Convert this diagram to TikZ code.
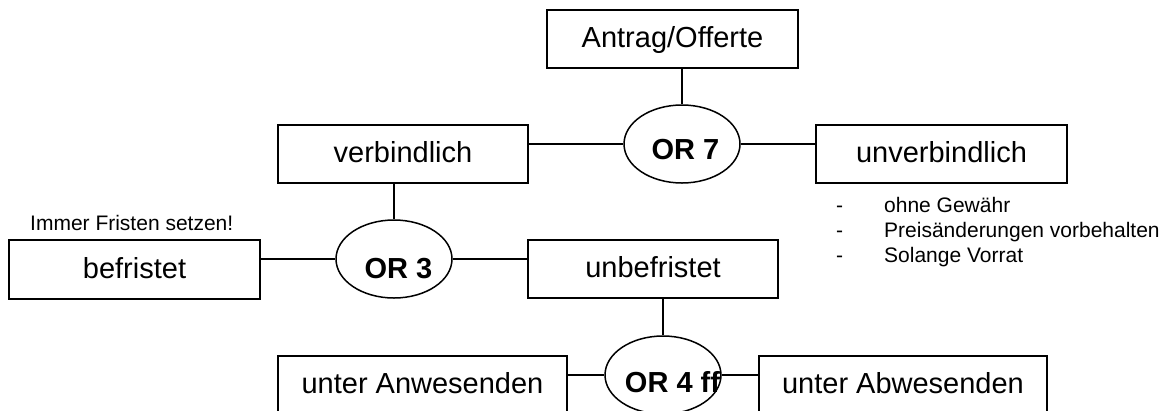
\documentclass[tikz,border=0pt]{standalone}
\usepackage{fontspec}
\setmainfont{Liberation Sans}
\usetikzlibrary{shapes.geometric}
\begin{document}
\begin{tikzpicture}[x=1pt,y=-1pt,
  box/.style={draw, line width=1.6pt, rectangle, inner sep=0pt, minimum height=58pt,
    text height=21pt, text depth=4pt, font=\fontsize{29}{30}\selectfont},
  orell/.style={draw, line width=1.5pt, ellipse, inner sep=0pt,
    minimum width=116pt, minimum height=78pt},
  ortext/.style={anchor=base, inner sep=0pt, font=\fontsize{29}{30}\selectfont\bfseries},
  conn/.style={line width=1.3pt},
  note/.style={anchor=base west, inner sep=0pt, font=\fontsize{21}{25}\selectfont}]
\useasboundingbox (0,0) rectangle (1169,410);
\clip (0,0) rectangle (1169,410);

% boxes
\node[box, minimum width=251pt] (antrag) at (672.5,39) {Antrag/Offerte};
\node[box, minimum width=250pt] (verb) at (403,154) {verbindlich};
\node[box, minimum width=251pt] (unverb) at (941.5,154) {unverbindlich};
\node[box, minimum width=251pt, minimum height=59pt] (befr) at (134.5,269.5) {befristet};
\node[box, minimum width=250pt] (unbefr) at (653,269) {unbefristet};
\node[box, minimum width=289pt] (anw) at (422.5,385) {unter Anwesenden};
\node[box, minimum width=288pt] (abw) at (903,385) {unter Abwesenden};

% ellipses
\node[orell] (or7) at (682,144) {};
\node[orell] (or3) at (394,259) {};
\node[orell] (or4) at (663,375) {};

% connectors
\draw[conn] (antrag.south -| or7.north) -- (or7.north);
\draw[conn] (verb.east |- or7.west) -- (or7.west);
\draw[conn] (or7.east) -- (unverb.west |- or7.east);
\draw[conn] (verb.south -| or3.north) -- (or3.north);
\draw[conn] (befr.east |- or3.west) -- (or3.west);
\draw[conn] (or3.east) -- (unbefr.west |- or3.east);
\draw[conn] (unbefr.south -| or4.north) -- (or4.north);
\draw[conn] (anw.east |- or4.west) -- (or4.west);
\draw[conn] (or4.east) -- (abw.west |- or4.east);

% ellipse texts
\node[ortext] (t7) at (685.5,159) {OR 7};
\node[ortext] (t3) at (398.5,278) {OR 3};
\node[ortext] (t4) at (672.5,392) {OR 4 ff};

% notes
\node[note] (fristen) at (30,230) {Immer Fristen setzen!};
\node[note] (d1) at (836,212) {-};
\node[note] (d2) at (836,237) {-};
\node[note] (d3) at (836,262) {-};
\node[note] (l1) at (884,212) {ohne Gewähr};
\node[note] (l2) at (884,237) {Preisänderungen vorbehalten};
\node[note] (l3) at (884,262) {Solange Vorrat};
\end{tikzpicture}
\end{document}
